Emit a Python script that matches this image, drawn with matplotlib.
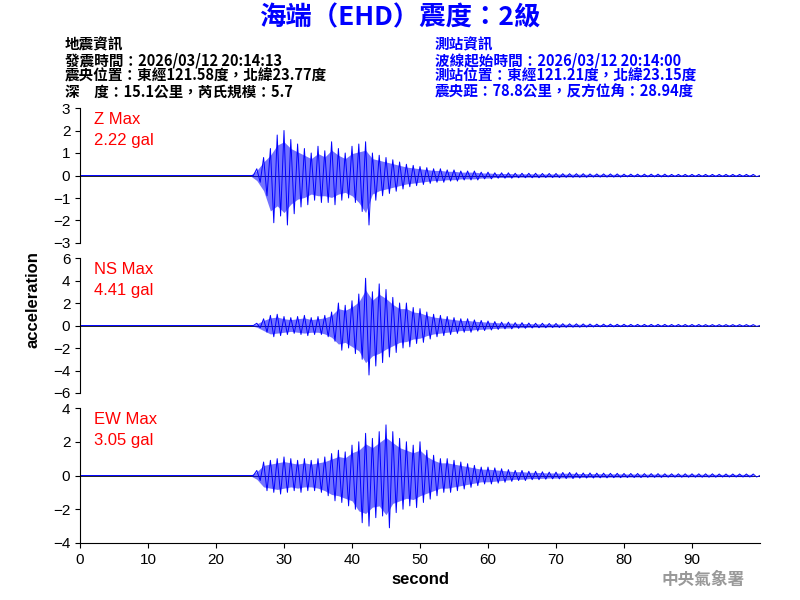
import numpy as np
import matplotlib
matplotlib.use("Agg")
import matplotlib.pyplot as plt

plt.rcParams['font.family'] = ['Liberation Sans', 'Noto Sans CJK TC', 'DejaVu Sans']

# per-second envelope, starting at t = 25 s
t0 = 25
z_max = [0, .3, .8, 1.2, 1.8, 2.0, 1.6, 1.4, 1.2, 1.0, 1.3, 1.1, 1.5, 1.2, 1.0, 1.3, 1.4, 1.5, 1.0, .9,
         .8, .7, .6, .5, .45, .4, .35, .3, .3, .25, .25, .2, .2, .2, .15, .15, .12, .12, .12, .1,
         .1, .1, .1, .09, .09, .09, .08, .08, .08, .08, .07, .07, .07, .07, .07, .06, .06, .06, .06, .06,
         .06, .06, .05, .05, .05, .05, .05, .05, .05, .05, .05, .05, .05, .05, .05]
z_min = [0, -.3, -.9, -2.1, -1.8, -2.2, -1.7, -1.4, -1.3, -1.1, -1.2, -1.2, -1.3, -1.1, -1.0, -1.2, -1.6, -2.2, -1.1, -.9,
         -.8, -.7, -.6, -.5, -.45, -.4, -.35, -.3, -.3, -.25, -.25, -.2, -.2, -.2, -.15, -.15, -.12, -.12, -.12, -.1,
         -.1, -.1, -.1, -.09, -.09, -.09, -.08, -.08, -.08, -.08, -.07, -.07, -.07, -.07, -.07, -.06, -.06, -.06, -.06, -.06,
         -.06, -.06, -.05, -.05, -.05, -.05, -.05, -.05, -.05, -.05, -.05, -.05, -.05, -.05, -.05]
ns_max = [0, .2, .6, .9, 1.0, .8, .7, .8, .9, .7, .8, .9, 1.2, 2.0, 1.8, 2.2, 2.8, 4.2, 3.0, 3.7,
          3.2, 2.5, 2.0, 2.0, 1.6, 1.5, 1.2, 1.0, .9, .8, .7, .6, .6, .5, .45, .4, .35, .3, .3, .25,
          .25, .22, .2, .2, .18, .18, .16, .15, .15, .14, .13, .12, .12, .12, .11, .11, .1, .1, .1, .1,
          .1, .1, .09, .09, .09, .09, .09, .08, .08, .08, .08, .08, .08, .08, .08]
ns_min = [0, -.2, -.6, -1.0, -.9, -.8, -.7, -.8, -.9, -.8, -.8, -1.0, -1.4, -2.2, -2.0, -2.5, -3.0, -4.4, -3.6, -3.3,
          -2.8, -2.4, -2.0, -1.9, -1.6, -1.5, -1.2, -1.0, -.9, -.8, -.7, -.6, -.6, -.5, -.45, -.4, -.35, -.3, -.3, -.25,
          -.25, -.22, -.2, -.2, -.18, -.18, -.16, -.15, -.15, -.14, -.13, -.12, -.12, -.12, -.11, -.11, -.1, -.1, -.1, -.1,
          -.1, -.1, -.09, -.09, -.09, -.09, -.09, -.08, -.08, -.08, -.08, -.08, -.08, -.08, -.08]
ew_max = [0, .3, .8, .9, 1.0, 1.1, 1.0, .9, 1.0, .9, 1.0, 1.1, 1.3, 1.5, 1.4, 1.8, 2.0, 2.5, 2.2, 2.6,
          3.0, 2.6, 2.2, 2.0, 1.8, 2.0, 1.5, 1.2, 1.0, 1.0, .9, .8, .7, .6, .5, .5, .45, .4, .35, .3,
          .3, .25, .25, .22, .2, .2, .18, .18, .16, .15, .15, .14, .14, .13, .13, .12, .12, .12, .11, .11,
          .11, .1, .1, .1, .1, .1, .1, .1, .1, .09, .09, .09, .09, .09, .09]
ew_min = [0, -.3, -.9, -1.0, -1.1, -1.0, -.9, -1.0, -.9, -.9, -1.0, -1.2, -1.5, -1.6, -1.8, -2.0, -2.8, -3.0, -2.5, -2.4,
          -3.1, -2.2, -2.0, -1.8, -1.9, -1.6, -1.4, -1.2, -1.0, -1.0, -.9, -.8, -.7, -.6, -.5, -.5, -.45, -.4, -.35, -.3,
          -.3, -.25, -.25, -.22, -.2, -.2, -.18, -.18, -.16, -.15, -.15, -.14, -.14, -.13, -.13, -.12, -.12, -.12, -.11, -.11,
          -.11, -.1, -.1, -.1, -.1, -.1, -.1, -.1, -.1, -.09, -.09, -.09, -.09, -.09, -.09]

panels = [("Z Max", "2.22 gal", z_max, z_min, 3, [-3, -2, -1, 0, 1, 2, 3]),
          ("NS Max", "4.41 gal", ns_max, ns_min, 6, [-6, -4, -2, 0, 2, 4, 6]),
          ("EW Max", "3.05 gal", ew_max, ew_min, 4, [-4, -2, 0, 2, 4])]

def zigzag(mx, mn):
    xs, ys = [0.0], [0.0]
    for i, (a, b) in enumerate(zip(mx, mn)):
        t = t0 + i
        xs += [t, t + 0.5]
        ys += [a, b]
    xs.append(100)
    ys.append(0)
    return xs, ys

fig = plt.figure(figsize=(8, 6), dpi=100)
tops = [108, 258, 408]
blue = '#0000ff'
cjk = ['Noto Sans CJK TC', 'DejaVu Sans']
for k, (name, val, mx, mn, lim, ticks) in enumerate(panels):
    top = tops[k]
    ax = fig.add_axes([80 / 800, 1 - (top + 135) / 600, 680 / 800, 135 / 600])
    tt = [t0 + i for i in range(len(mx))]
    ax.axhline(0, color='black', lw=0.6, zorder=0)
    ax.fill_between(tt, [a * 0.75 for a in mx], [b * 0.75 for b in mn], color=blue, alpha=0.55, lw=0)
    xs, ys = zigzag(mx, mn)
    ax.plot(xs, ys, color=blue, lw=0.7)
    ax.set_xlim(0, 100)
    ax.set_ylim(-lim, lim)
    ax.set_yticks(ticks)
    ax.tick_params(labelsize=11)
    for s in ['top', 'right']:
        ax.spines[s].set_visible(False)
    if k < 2:
        ax.spines['bottom'].set_visible(False)
        ax.set_xticks([])
    else:
        ax.set_xticks(range(0, 100, 10))
        ax.set_xlabel('second', fontsize=12, fontweight='bold')
    ax.text(0.02, 0.97, name + '\n' + val, transform=ax.transAxes, color='red',
            fontsize=12, va='top', linespacing=1.5)

fig.text(25 / 800, 0.5, 'acceleration', rotation=90, va='center', fontsize=12, fontweight='bold')
fig.text(0.5, 1 - 18 / 600, '海端（EHD）震度：2級', ha='center', va='center', color=blue,
         fontsize=19, fontweight='bold', family=cjk)
left_info = ['地震資訊', '發震時間：2026/03/12 20:14:13', '震央位置：東經121.58度，北緯23.77度',
             '深　度：15.1公里，芮氏規模：5.7']
right_info = ['測站資訊', '波線起始時間：2026/03/12 20:14:00', '測站位置：東經121.21度，北緯23.15度',
              '震央距：78.8公里，反方位角：28.94度']
for i, s in enumerate(left_info):
    fig.text(65 / 800, 1 - (44 + i * 16) / 600, s, fontsize=10.5, va='center', fontweight='bold', family=cjk)
for i, s in enumerate(right_info):
    fig.text(435 / 800, 1 - (44 + i * 16) / 600, s, fontsize=10.5, va='center', color=blue,
             fontweight='bold', family=cjk)
fig.text(745 / 800, 1 - 580 / 600, '中央氣象署', ha='right', va='center', color='#999999',
         fontsize=12, fontweight='bold', family=cjk)

fig.savefig('out.png', dpi=100)
